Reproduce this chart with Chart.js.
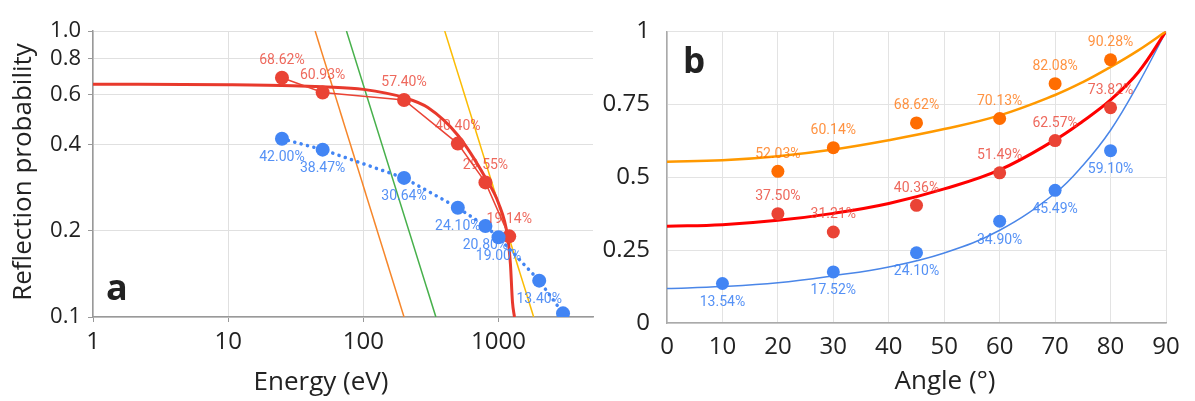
<!DOCTYPE html>
<html>
<head>
<meta charset="utf-8">
<script src="https://cdn.jsdelivr.net/npm/chart.js@4.4.0/dist/chart.umd.min.js"></script>
<style>
  body { margin: 0; background: #fff; width: 1195px; height: 401px; overflow: hidden; position: relative; }
  #chartA { position: absolute; left: 0; top: 0; }
  #chartB { position: absolute; left: 600px; top: 0; }
</style>
</head>
<body>
<canvas id="chartA" width="600" height="401"></canvas>
<canvas id="chartB" width="595" height="401"></canvas>
<script>
// ---- panel a : reflection vs energy (log-log) ----
var energyRed = [25, 50, 200, 500, 800, 1200];
var reflRed = [0.6862, 0.6093, 0.5740, 0.4040, 0.2955, 0.1914];

var energyBlue = [25, 50, 200, 500, 800, 1000, 2000, 3000];
var reflBlue = [0.4200, 0.3847, 0.3064, 0.2410, 0.2080, 0.1900, 0.1340, 0.103];

// thick red fit curve
var fitEnergy = [1, 10, 30, 50, 100, 200, 300, 500, 800, 1000, 1165, 1225, 1268, 1312];
var fitRefl = [0.652, 0.649, 0.644, 0.638, 0.625, 0.585, 0.54, 0.432, 0.307, 0.25, 0.192, 0.153, 0.113, 0.1];

// straight guide lines (start / end)
var orangeLineE = [44, 200], orangeLineR = [1, 0.1];
var greenLineE = [75, 344], greenLineR = [1, 0.1];
var yellowLineE = [400, 1820], yellowLineR = [1, 0.1];

var energyTicks = [1, 10, 100, 1000];
var reflTicksA = [0.1, 0.2, 0.4, 0.6, 0.8, 1.0];

// ---- panel b : reflection vs angle ----
var anglesOrange = [20, 30, 45, 60, 70, 80];
var reflOrange = [0.5203, 0.6014, 0.6862, 0.7013, 0.8208, 0.9028];

var anglesRed = [20, 30, 45, 60, 70, 80];
var reflRedB = [0.3750, 0.3121, 0.4036, 0.5149, 0.6257, 0.7382];

var anglesBlue = [10, 30, 45, 60, 70, 80];
var reflBlueB = [0.1354, 0.1752, 0.2410, 0.3490, 0.4549, 0.5910];

// fitted curves
var fitAngles = [0, 10, 20, 30, 40, 50, 60, 70, 75, 80, 85, 90];
var fitOrange = [0.553, 0.558, 0.572, 0.595, 0.627, 0.665, 0.712, 0.782, 0.826, 0.878, 0.935, 1.0];
var fitRedB = [0.332, 0.337, 0.352, 0.376, 0.41, 0.46, 0.525, 0.628, 0.692, 0.765, 0.86, 1.0];
var fitBlueB = [0.118, 0.125, 0.138, 0.162, 0.192, 0.24, 0.318, 0.445, 0.54, 0.661, 0.82, 1.0];

var angleTicks = [0, 10, 20, 30, 40, 50, 60, 70, 80, 90];
var reflTicksB = [0, 0.25, 0.5, 0.75, 1];

function toPts(xs, ys) {
  return xs.map(function (x, i) { return { x: x, y: ys[i] }; });
}
function pct(ys) {
  return ys.map(function (v) { return (v * 100).toFixed(2) + '%'; });
}

// draws the percent labels next to the points
var pointLabels = {
  id: 'pointLabels',
  afterDatasetsDraw: function (chart) {
    var ctx = chart.ctx, area = chart.chartArea;
    chart.data.datasets.forEach(function (ds, i) {
      if (!ds.labels) return;
      var meta = chart.getDatasetMeta(i);
      ctx.save();
      ctx.font = '14px Roboto';
      ctx.fillStyle = ds.labelColor;
      ctx.textAlign = 'center';
      ctx.textBaseline = 'middle';
      meta.data.forEach(function (pt, j) {
        var y = pt.y + ds.labelDy;
        if (y > area.bottom) return;
        ctx.fillText(ds.labels[j], pt.x, y);
      });
      ctx.restore();
    });
  }
};

// axis titles and panel letters
function annotate(items) {
  return {
    id: 'annot',
    afterDraw: function (chart) {
      var ctx = chart.ctx;
      items.forEach(function (it) {
        ctx.save();
        ctx.font = it.font;
        ctx.fillStyle = '#222';
        ctx.textAlign = it.align || 'center';
        ctx.textBaseline = 'alphabetic';
        ctx.translate(it.x, it.y);
        if (it.rotate) ctx.rotate(it.rotate);
        ctx.fillText(it.text, 0, 0);
        ctx.restore();
      });
    }
  };
}

function fixedTicks(list) {
  return function (scale) {
    scale.ticks = list.map(function (v) { return { value: v }; });
  };
}

var tickFont = 'Open Sans';

new Chart(document.getElementById('chartA'), {
  type: 'scatter',
  data: {
    datasets: [
      {
        data: toPts(energyBlue, reflBlue), showLine: true,
        borderColor: '#4285f4', borderWidth: 3.5, borderDash: [0.1, 6.5], borderCapStyle: 'round',
        pointRadius: 7, pointBackgroundColor: '#4285f4', pointBorderWidth: 0,
        labels: pct(reflBlue), labelDy: 19, labelColor: 'rgba(66,133,244,0.9)', order: 0
      },
      {
        data: toPts(energyRed, reflRed), showLine: true,
        borderColor: '#ea4335', borderWidth: 1.5,
        pointRadius: 7, pointBackgroundColor: '#ea4335', pointBorderWidth: 0,
        labels: pct(reflRed), labelDy: -17, labelColor: 'rgba(234,67,53,0.8)', order: 1
      },
      {
        data: toPts(fitEnergy, fitRefl), showLine: true, cubicInterpolationMode: 'monotone',
        borderColor: '#e8392c', borderWidth: 3, pointRadius: 0, order: 2
      },
      { data: toPts(orangeLineE, orangeLineR), showLine: true, borderColor: '#f6862a', borderWidth: 1.5, pointRadius: 0, order: 3 },
      { data: toPts(greenLineE, greenLineR), showLine: true, borderColor: '#47b04b', borderWidth: 1.5, pointRadius: 0, order: 3 },
      { data: toPts(yellowLineE, yellowLineR), showLine: true, borderColor: '#fbbc04', borderWidth: 1.5, pointRadius: 0, order: 3 }
    ]
  },
  options: {
    responsive: false,
    animation: false,
    devicePixelRatio: 1,
    layout: { padding: { top: 31, right: 3, left: 0, bottom: 0 } },
    plugins: { legend: { display: false }, tooltip: { enabled: false } },
    scales: {
      x: {
        type: 'logarithmic', min: 1, max: 5000,
        afterBuildTicks: fixedTicks(energyTicks),
        afterFit: function (s) { s.height = 84; },
        ticks: {
          callback: function (v) { return String(v); },
          font: { family: tickFont, size: 24 }, color: '#222', padding: 6,
          autoSkip: false, maxRotation: 0
        },
        grid: { color: '#e0e0e0', tickColor: '#999', tickLength: 5 },
        border: { color: '#999', width: 1.5 }
      },
      y: {
        type: 'logarithmic', min: 0.1, max: 1,
        afterBuildTicks: fixedTicks(reflTicksA),
        afterFit: function (s) { s.width = 93; },
        ticks: {
          callback: function (v) { return Number(v).toFixed(1); },
          font: { family: tickFont, size: 22 }, color: '#222', padding: 7, autoSkip: false
        },
        grid: { color: '#e0e0e0', tickColor: '#999', tickLength: 5 },
        border: { color: '#999', width: 1.5 }
      }
    }
  },
  plugins: [pointLabels, annotate([
    { text: 'Reflection probability', x: 31, y: 172, rotate: -Math.PI / 2, font: '26px "Open Sans"' },
    { text: 'Energy (eV)', x: 321, y: 390, font: '26px "Open Sans"' },
    { text: 'a', x: 106, y: 300, align: 'left', font: 'bold 36px "Open Sans"' }
  ])]
});

new Chart(document.getElementById('chartB'), {
  type: 'scatter',
  data: {
    datasets: [
      {
        data: toPts(anglesOrange, reflOrange),
        pointRadius: 6.5, pointBackgroundColor: '#ff6d01', pointBorderWidth: 0,
        labels: pct(reflOrange), labelDy: -17, labelColor: 'rgba(255,109,1,0.75)', order: 0
      },
      {
        data: toPts(anglesRed, reflRedB),
        pointRadius: 6.5, pointBackgroundColor: '#ea4335', pointBorderWidth: 0,
        labels: pct(reflRedB), labelDy: -17, labelColor: 'rgba(234,67,53,0.8)', order: 0
      },
      {
        data: toPts(anglesBlue, reflBlueB),
        pointRadius: 6.5, pointBackgroundColor: '#4285f4', pointBorderWidth: 0,
        labels: pct(reflBlueB), labelDy: 19, labelColor: 'rgba(66,133,244,0.9)', order: 0
      },
      { data: toPts(fitAngles, fitOrange), showLine: true, tension: 0.4, borderColor: '#ff9900', borderWidth: 2.5, pointRadius: 0, order: 1 },
      { data: toPts(fitAngles, fitRedB), showLine: true, tension: 0.4, borderColor: '#ff0000', borderWidth: 3, pointRadius: 0, order: 1 },
      { data: toPts(fitAngles, fitBlueB), showLine: true, tension: 0.4, borderColor: '#4a86e8', borderWidth: 1.5, pointRadius: 0, order: 1 }
    ]
  },
  options: {
    responsive: false,
    animation: false,
    devicePixelRatio: 1,
    layout: { padding: { top: 31, right: 29, left: 0, bottom: 0 } },
    plugins: { legend: { display: false }, tooltip: { enabled: false } },
    scales: {
      x: {
        type: 'linear', min: 0, max: 90,
        afterBuildTicks: fixedTicks(angleTicks),
        afterFit: function (s) { s.height = 78; },
        ticks: {
          callback: function (v) { return String(v); },
          font: { family: tickFont, size: 24 }, color: '#222', padding: 10, autoSkip: false, maxRotation: 0
        },
        grid: { color: '#e3e3e3', drawTicks: false },
        border: { color: '#aaa', width: 1.5 }
      },
      y: {
        type: 'linear', min: 0, max: 1,
        afterBuildTicks: fixedTicks(reflTicksB),
        afterFit: function (s) { s.width = 67; },
        ticks: {
          callback: function (v) { return String(v); },
          font: { family: tickFont, size: 24 }, color: '#222', padding: 17, autoSkip: false
        },
        grid: { color: '#e3e3e3', drawTicks: false },
        border: { color: '#aaa', width: 1.5 }
      }
    }
  },
  plugins: [pointLabels, annotate([
    { text: 'Angle (°)', x: 345, y: 389, font: '26px "Open Sans"' },
    { text: 'b', x: 83, y: 73, align: 'left', font: 'bold 35px "Open Sans"' }
  ])]
});
</script>
</body>
</html>
